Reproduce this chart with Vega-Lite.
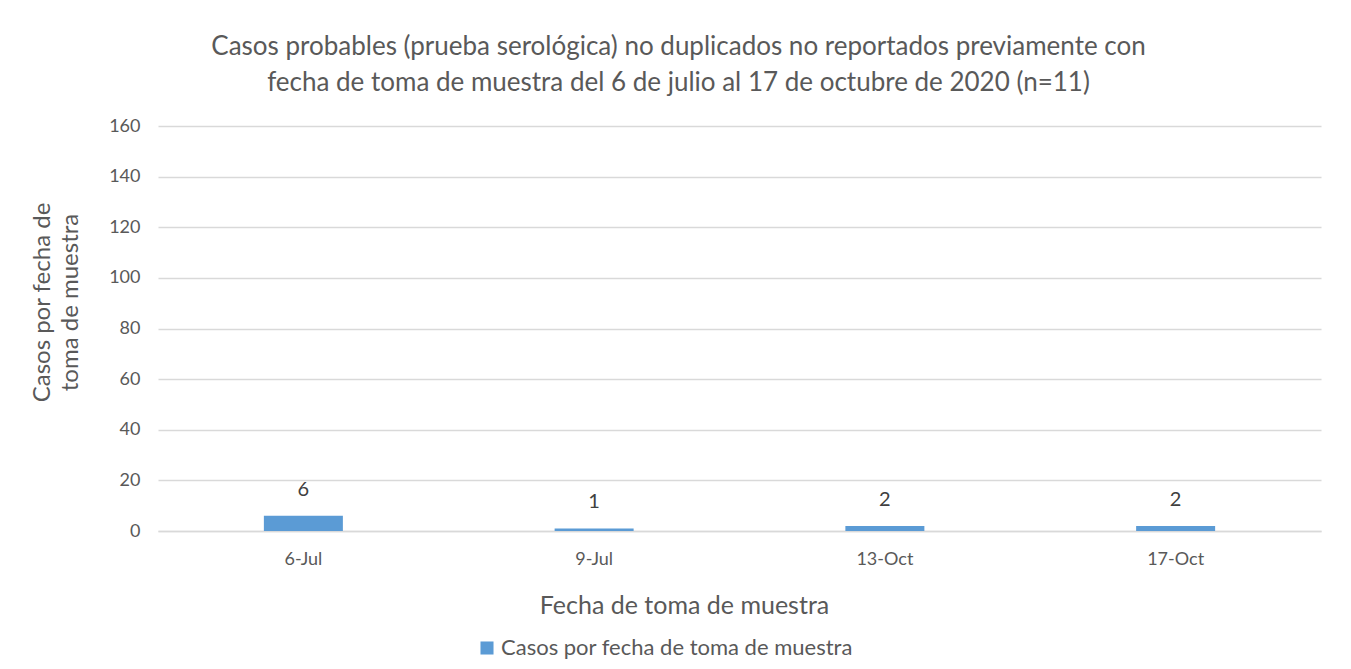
{
  "$schema": "https://vega.github.io/schema/vega-lite/v6.json",
  "width": 1163,
  "height": 405,
  "autosize": {"type": "none"},
  "padding": {"left": 158, "top": 126, "right": 30, "bottom": 138},
  "background": "white",
  "title": {
    "text": ["Casos probables (prueba serológica) no duplicados no reportados previamente con", "fecha de toma de muestra del 6 de julio al 17 de octubre de 2020 (n=11)"],
    "font": "Lato",
    "fontSize": 26,
    "fontWeight": "normal",
    "color": "#595959",
    "anchor": "middle",
    "dx": -61,
    "offset": 21,
    "lineHeight": 36
  },
  "data": {
    "values": [
      {"fecha": "6-Jul", "casos": 6, "serie": "Casos por fecha de toma de muestra"},
      {"fecha": "9-Jul", "casos": 1, "serie": "Casos por fecha de toma de muestra"},
      {"fecha": "13-Oct", "casos": 2, "serie": "Casos por fecha de toma de muestra"},
      {"fecha": "17-Oct", "casos": 2, "serie": "Casos por fecha de toma de muestra"}
    ]
  },
  "encoding": {
    "x": {
      "field": "fecha",
      "type": "nominal",
      "sort": null,
      "scale": {"paddingInner": 0, "paddingOuter": 0},
      "axis": {
        "title": "Fecha de toma de muestra",
        "titleFont": "Lato",
        "titleFontSize": 25,
        "titleFontWeight": "normal",
        "titleColor": "#595959",
        "titleX": 526,
        "titleY": 74,
        "titleBaseline": "middle",
        "titleAnchor": null,
        "labelAngle": 0,
        "labelFont": "Lato",
        "labelFontSize": 18,
        "labelColor": "#595959",
        "labelPadding": 19,
        "ticks": false,
        "domainColor": "#d9d9d9",
        "domainWidth": 1.5
      }
    },
    "y": {
      "field": "casos",
      "type": "quantitative",
      "scale": {"domain": [0, 160]},
      "axis": {
        "values": [0, 20, 40, 60, 80, 100, 120, 140, 160],
        "title": ["Casos por fecha de", "toma de muestra"],
        "titleFont": "Lato",
        "titleFontSize": 24,
        "titleFontWeight": "normal",
        "titleColor": "#595959",
        "titleAngle": -90,
        "titleX": -128,
        "titleY": 176,
        "titleAlign": "center",
        "titleBaseline": "top",
        "titleLineHeight": 28,
        "titleAnchor": null,
        "labelFont": "Lato",
        "labelFontSize": 18,
        "labelColor": "#595959",
        "labelPadding": 18,
        "ticks": false,
        "domain": false,
        "gridColor": "#d9d9d9",
        "gridWidth": 1.5
      }
    }
  },
  "layer": [
    {
      "mark": {"type": "bar", "size": 79},
      "encoding": {
        "color": {
          "field": "serie",
          "type": "nominal",
          "scale": {"range": ["#5b9bd5"]},
          "legend": {
            "title": null,
            "orient": "none",
            "legendX": 318,
            "legendY": 511,
            "symbolType": "square",
            "symbolSize": 170,
            "symbolStrokeWidth": 0,
            "labelFont": "Lato",
            "labelFontSize": 22,
            "labelColor": "#595959",
            "labelLimit": 600,
            "labelOffset": 3
          }
        }
      }
    },
    {
      "mark": {"type": "text", "baseline": "middle", "dy": -26, "font": "Lato", "fontSize": 20, "color": "#404040"},
      "encoding": {
        "text": {"field": "casos", "type": "quantitative"}
      }
    }
  ],
  "config": {
    "view": {"stroke": null}
  }
}
